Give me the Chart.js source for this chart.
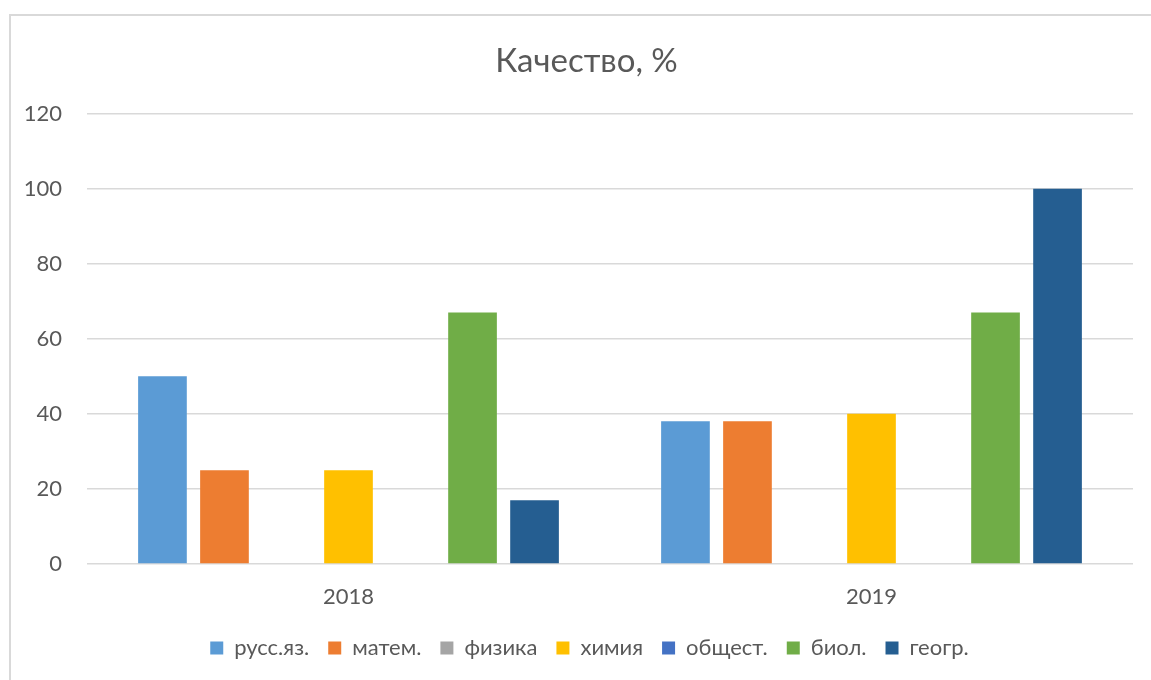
<!DOCTYPE html>
<html>
<head>
<meta charset="utf-8">
<script src="https://cdn.jsdelivr.net/npm/chart.js@4/dist/chart.umd.min.js"></script>
<style>
  html, body { margin: 0; padding: 0; background: #fff; overflow: hidden; }
  #wrap { position: absolute; left: 0; top: 0; width: 1151px; height: 680px; }
  #frame { position: absolute; left: 9px; top: 14px; width: 1200px; height: 700px; border: 2px solid #d9d9d9; box-sizing: border-box; }
</style>
</head>
<body>
<div id="wrap">
  <div id="frame"></div>
  <canvas id="c" width="1151" height="680"></canvas>
</div>
<script>
const categories = ['2018', '2019'];
const seriesNames = ['русс.яз.', 'матем.', 'физика', 'химия', 'общест.', 'биол.', 'геогр.'];
const rusValues = [50, 38];
const matValues = [25, 38];
const phyValues = [0, 0];
const chemValues = [25, 40];
const socValues = [0, 0];
const bioValues = [67, 67];
const geoValues = [17, 100];
const yTicks = [0, 20, 40, 60, 80, 100, 120];
const seriesColors = ['#5B9BD5', '#ED7D31', '#A5A5A5', '#FFC000', '#4472C4', '#70AD47', '#255E91'];
const seriesValues = [rusValues, matValues, phyValues, chemValues, socValues, bioValues, geoValues];

const FONT = "Lato, 'Open Sans', 'Liberation Sans', sans-serif";
const TXT = '#595959';

// shift title and legend horizontally to match the reference centring
const shiftBoxes = {
  id: 'shiftBoxes',
  afterLayout(chart) {
    if (chart.legend) { chart.legend.left += 23; chart.legend.right += 23; }
    if (chart.titleBlock) { chart.titleBlock.left += 20; chart.titleBlock.right += 20; }
  }
};

new Chart(document.getElementById('c'), {
  type: 'bar',
  data: {
    labels: categories,
    datasets: seriesNames.map((n, i) => ({
      label: n,
      data: seriesValues[i],
      backgroundColor: seriesColors[i],
      borderWidth: 0,
      categoryPercentage: 0.83,
      barPercentage: 0.785
    }))
  },
  plugins: [shiftBoxes],
  options: {
    responsive: false,
    animation: false,
    layout: { padding: { left: 0, right: 18, top: 0, bottom: 11 } },
    plugins: {
      title: {
        display: true,
        text: 'Качество, %',
        color: TXT,
        font: { family: FONT, size: 33, weight: 'normal' },
        padding: { top: 42, bottom: 32 }
      },
      legend: {
        position: 'bottom',
        labels: {
          color: TXT,
          font: { family: FONT, size: 22 },
          boxWidth: 13,
          boxHeight: 13,
          padding: 19
        }
      },
      tooltip: { enabled: false }
    },
    scales: {
      x: {
        grid: { display: false, drawTicks: false },
        border: { display: false },
        ticks: { color: TXT, font: { family: FONT, size: 22 }, padding: 20 },
        afterFit: s => { s.height = 54; }
      },
      y: {
        min: 0,
        max: 120,
        afterBuildTicks: s => { s.ticks = yTicks.map(v => ({ value: v })); },
        grid: { color: '#d9d9d9', lineWidth: 1.5, drawTicks: false },
        border: { display: false },
        ticks: { color: TXT, font: { family: FONT, size: 22 }, padding: 25 },
        afterFit: s => { s.width = 87; }
      }
    }
  }
});
</script>
</body>
</html>
